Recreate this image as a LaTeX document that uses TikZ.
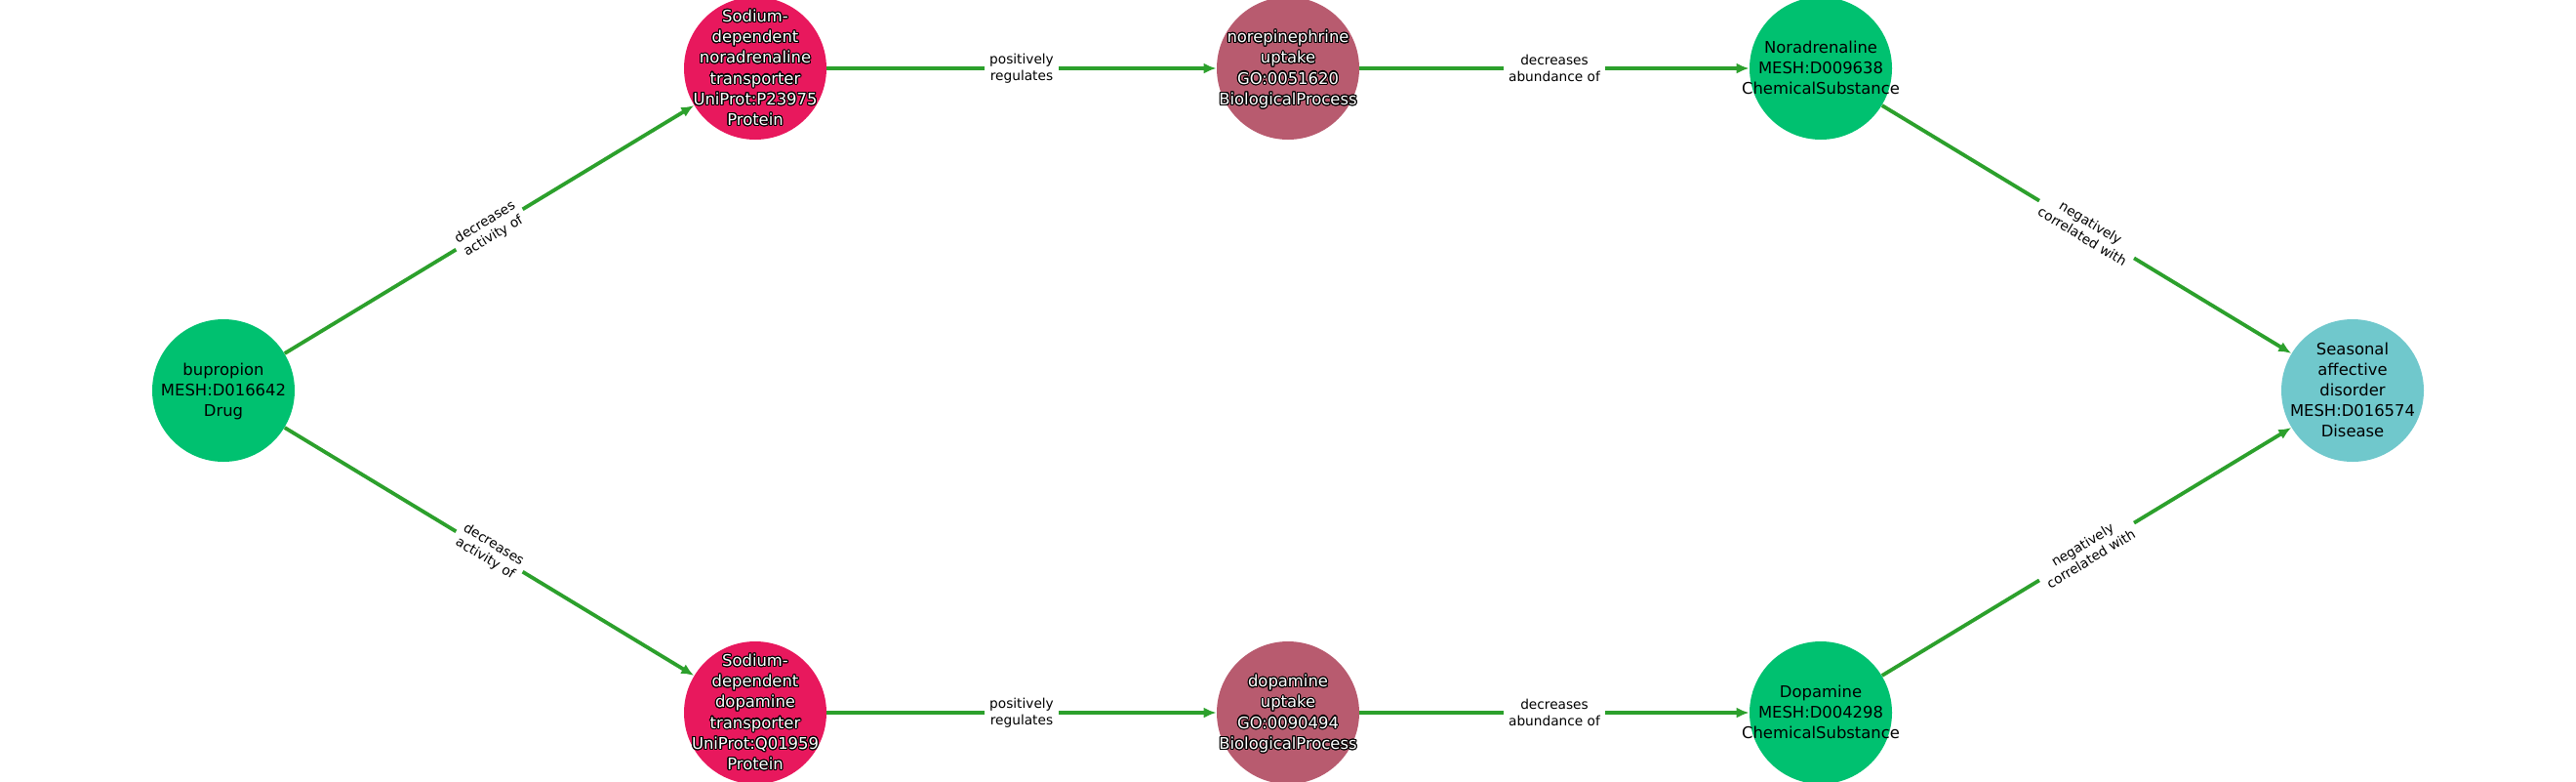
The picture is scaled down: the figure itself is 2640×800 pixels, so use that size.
\documentclass[tikz,border=0pt]{standalone}
\usepackage{fontspec}
\setmainfont{DejaVu Sans}
\usepackage[copies]{contour}
\contourlength{0.55pt}
\contournumber{16}
\usetikzlibrary{arrows.meta}
\definecolor{drugc}{HTML}{00C170}
\definecolor{protc}{HTML}{E8185D}
\definecolor{procc}{HTML}{B85B6F}
\definecolor{disc}{HTML}{70C8CC}
\definecolor{edgec}{HTML}{2CA02C}
\newcommand{\wl}[1]{\contour{black}{#1}}
\newcommand{\ntext}[1]{\smash{\makebox[0pt]{\raisebox{-2.6pt}{\begin{tabular}{@{}c@{}}#1\end{tabular}}}}}
\tikzset{
  ent/.style={circle, minimum size=73pt, inner sep=0pt,
    font=\fontsize{8.2}{10.6}\selectfont},
  drugn/.style={ent, fill=drugc, text=black},
  protn/.style={ent, fill=protc, text=white},
  procn/.style={ent, fill=procc, text=white},
  disn/.style={ent, fill=disc, text=black},
  edge/.style={draw=edgec, line width=1.9pt, -{Latex[length=6.5pt,width=5.5pt]}},
  elabel/.style={fill=white, inner sep=2.5pt, align=center, text=black,
    font=\fontsize{6.85}{8.3}\selectfont}
}
\begin{document}
\begin{tikzpicture}[x=0.5pt,y=-0.5pt]
\useasboundingbox (0,0) rectangle (2640,800);
\node[drugn] (bup) at (229,400) {\ntext{bupropion\\MESH:D016642\\Drug}};
\node[protn] (net) at (774,70) {\ntext{\wl{Sodium-}\\\wl{dependent}\\\wl{noradrenaline}\\\wl{transporter}\\\wl{UniProt:P23975}\\\wl{Protein}}};
\node[procn] (neu) at (1320,70) {\ntext{\wl{norepinephrine}\\\wl{uptake}\\\wl{GO:0051620}\\\wl{BiologicalProcess}}};
\node[drugn] (nor) at (1866,70) {\ntext{Noradrenaline\\MESH:D009638\\ChemicalSubstance}};
\node[disn] (sad) at (2411,400) {\ntext{Seasonal\\affective\\disorder\\MESH:D016574\\Disease}};
\node[protn] (dat) at (774,730) {\ntext{\wl{Sodium-}\\\wl{dependent}\\\wl{dopamine}\\\wl{transporter}\\\wl{UniProt:Q01959}\\\wl{Protein}}};
\node[procn] (dau) at (1320,730) {\ntext{\wl{dopamine}\\\wl{uptake}\\\wl{GO:0090494}\\\wl{BiologicalProcess}}};
\node[drugn] (dop) at (1866,730) {\ntext{Dopamine\\MESH:D004298\\ChemicalSubstance}};

\draw[edge] (bup) -- node[elabel, sloped] {decreases\\activity of} (net);
\draw[edge] (net) -- node[elabel] {positively\\regulates} (neu);
\draw[edge] (neu) -- node[elabel] {decreases\\abundance of} (nor);
\draw[edge] (nor) -- node[elabel, sloped] {negatively\\correlated with} (sad);
\draw[edge] (bup) -- node[elabel, sloped] {decreases\\activity of} (dat);
\draw[edge] (dat) -- node[elabel] {positively\\regulates} (dau);
\draw[edge] (dau) -- node[elabel] {decreases\\abundance of} (dop);
\draw[edge] (dop) -- node[elabel, sloped] {negatively\\correlated with} (sad);
\end{tikzpicture}
\end{document}
